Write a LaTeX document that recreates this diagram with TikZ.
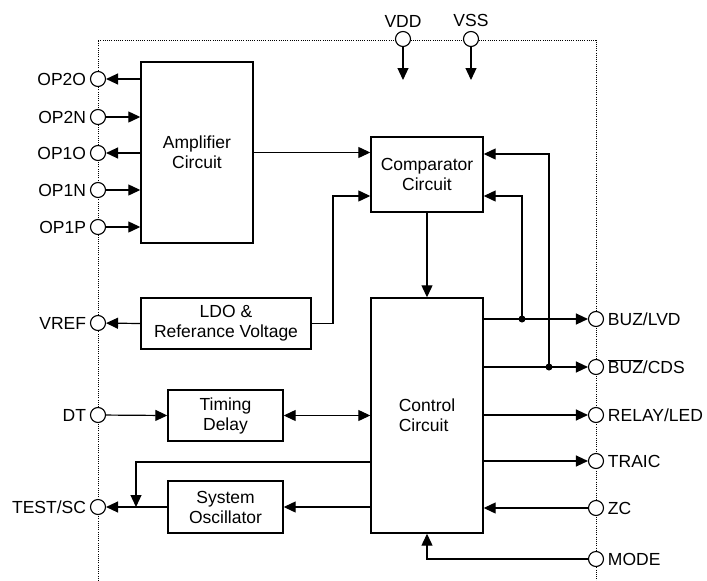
\documentclass[tikz,border=0pt]{standalone}
\usepackage{fontspec}
\setmainfont{Liberation Sans}
\usetikzlibrary{arrows.meta}
\begin{document}
\begin{tikzpicture}[x=1pt, y=-1pt, >={Triangle[length=12pt,width=11pt]},
  line width=1.2pt, font=\fontsize{17.5}{20}\selectfont,
  block/.style={draw, line width=1.4pt, align=center, inner sep=0pt},
  term/.style={circle, draw, line width=1.1pt, fill=white, minimum size=15pt, inner sep=0pt},
  frame/.style={line width=1pt, dash pattern=on 1pt off 1.2pt}]
 \useasboundingbox (0,0) rectangle (707,581);
 % chip outline
 \draw[frame] (98,581) -- (98,40) -- (596,40) -- (596,581);
 % blocks
 \node[block, minimum width=112pt, minimum height=181pt] (amp) at (197,152.5) {Amplifier\\Circuit};
 \node[block, minimum width=112pt, minimum height=75pt] (cmp) at (427,174.5) {Comparator\\Circuit};
 \node[block, minimum width=170pt, minimum height=51pt] (ldo) at (226,323.5) {LDO \&\\Referance Voltage};
 \node[block, minimum width=112pt, minimum height=235pt, align=left] (ctl) at (427,415.5) {Control\\Circuit};
 \node[block, minimum width=115pt, minimum height=51pt] (tmd) at (225.5,415.5) {Timing\\Delay};
 \node[block, minimum width=115pt, minimum height=52pt] (osc) at (225.5,507) {System\\Oscillator};
 % pins
 \node[term, label=left:OP2O] (op2o) at (98,79) {};
 \node[term, label=left:OP2N] (op2n) at (98,117) {};
 \node[term, label=left:OP1O] (op1o) at (98,153) {};
 \node[term, label=left:OP1N] (op1n) at (98,190) {};
 \node[term, label=left:OP1P] (op1p) at (98,227) {};
 \node[term, label=left:VREF] (vref) at (98,323) {};
 \node[term, label=left:DT] (dt) at (98,415) {};
 \node[term, label=left:TEST/SC] (test) at (98,507) {};
 \node[term, label=above:VDD] (vdd) at (403,39) {};
 \node[term, label=above:VSS] (vss) at (471,39) {};
 \node[term, label=right:BUZ/LVD] (buzlvd) at (596,319) {};
 \node[term, label=right:{$\overline{\hbox{BUZ}}$/CDS}] (buzcds) at (596,367) {};
 \node[term, label=right:RELAY/LED] (relay) at (596,415) {};
 \node[term, label=right:TRAIC] (traic) at (596,461) {};
 \node[term, label=right:ZC] (zc) at (596,508) {};
 \node[term, label=right:MODE] (mode) at (596,559) {};
 % bends and taps
 \coordinate (vddin) at (403,80);
 \coordinate (vssin) at (471,80);
 \coordinate (vtap) at (333,196);
 \coordinate (dotA) at (522,319);
 \coordinate (dotB) at (549,367);
 \coordinate (tbend) at (136,462);
 % supply
 \draw[->] (vdd) -- (vddin);
 \draw[->] (vss) -- (vssin);
 % amplifier
 \draw[->] (amp.west |- op2o) -- (op2o);
 \draw[->] (op2n) -- (op2n -| amp.west);
 \draw[->] (amp.west |- op1o) -- (op1o);
 \draw[->] (op1n) -- (op1n -| amp.west);
 \draw[->] (op1p) -- (op1p -| amp.west);
 \draw[->] (amp.east) -- (amp.east -| cmp.west);
 % reference
 \draw[->] (ldo.west) -- (vref);
 \draw[->] (ldo.east) -| (vtap) -- (vtap -| cmp.west);
 % comparator to control
 \draw[->] (cmp.south) -- (ctl.north);
 \draw[->] (dotA) |- ([yshift=-21.5pt]cmp.east);
 \draw[->] (dotB) |- ([yshift=20.5pt]cmp.east);
 \fill (dotA) circle (3.5pt);
 \fill (dotB) circle (3.5pt);
 % outputs
 \draw[->] (ctl.east |- buzlvd) -- (buzlvd);
 \draw[->] (ctl.east |- buzcds) -- (buzcds);
 \draw[->] (ctl.east |- relay) -- (relay);
 \draw[->] (ctl.east |- traic) -- (traic);
 \draw[->] (zc) -- (zc -| ctl.east);
 \draw[->] (mode) -| (ctl.south);
 % timing and oscillator
 \draw[->] (dt) -- (tmd.west);
 \draw[<->] (tmd.east) -- (tmd.east -| ctl.west);
 \draw[->] (ctl.west |- osc.east) -- (osc.east);
 \draw[->] (osc.west) -- (test);
 \draw[->] (ctl.west |- tbend) -| (tbend |- test);
\end{tikzpicture}
\end{document}
